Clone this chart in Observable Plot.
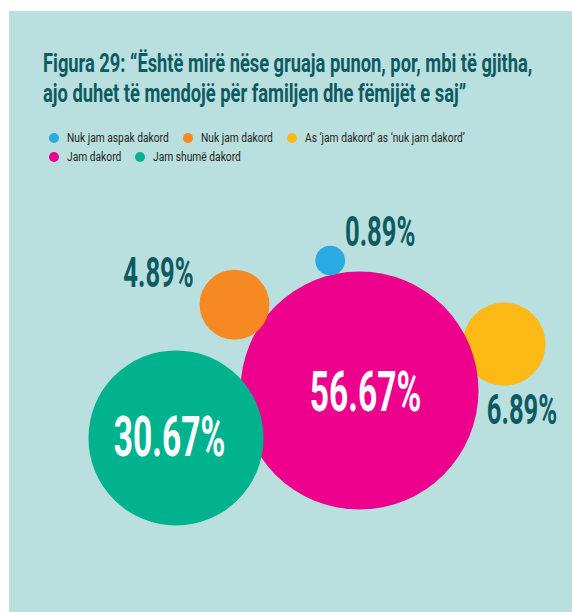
<!DOCTYPE html>
<html><head><meta charset="utf-8">
<script src="https://cdn.jsdelivr.net/npm/d3@7"></script>
<script src="https://cdn.jsdelivr.net/npm/@observablehq/plot@0.6"></script>
<style>
html,body{margin:0;padding:0;background:#fff;width:572px;height:612px;overflow:hidden;}
#panel{position:absolute;left:9px;top:11px;width:563px;height:601px;background:#badfdf;}
#title{position:absolute;left:34px;top:38px;font-family:Roboto,sans-serif;font-weight:bold;font-size:25px;line-height:30px;color:#0d5b62;white-space:nowrap;}
#title div{transform-origin:0 0;transform:scaleX(0.732);}
#legend{position:absolute;left:40px;top:117px;width:460px;display:flex;flex-wrap:wrap;font-family:Roboto,sans-serif;font-size:12.5px;line-height:19px;color:#231f20;}
#legend .item{display:inline-flex;align-items:center;margin-right:14px;white-space:nowrap;}
#legend .sw{width:10px;height:10px;border-radius:50%;margin-right:8px;display:inline-block;flex:none;}
#legend .lab{display:inline-block;overflow:visible;}
#legend .lab span{display:inline-block;transform-origin:0 50%;}
#chart{position:absolute;left:0;top:170px;}
</style></head>
<body>
<div id="panel">
  <div id="title"></div>
  <div id="legend"></div>
</div>
<div id="chart"></div>
<script>
// ---- data ----
const titleLines = [
  "Figura 29: \u201C\u00CBsht\u00EB mir\u00EB n\u00EBse gruaja punon, por, mbi t\u00EB gjitha,",
  "ajo duhet t\u00EB mendoj\u00EB p\u00EBr familjen dhe f\u00EBmij\u00EBt e saj\u201D"
];
const categories = [
  "Nuk jam aspak dakord",
  "Nuk jam dakord",
  "As \u2018jam dakord\u2019 as \u2018nuk jam dakord\u2019",
  "Jam dakord",
  "Jam shum\u00EB dakord"
];
const values = [0.89, 4.89, 6.89, 56.67, 30.67];
const labels = ["0.89%", "4.89%", "6.89%", "56.67%", "30.67%"];
const colors = ["#29abe2", "#f68922", "#fdb916", "#ec008c", "#00b38e"];

// ---- layout (not data): placement around the largest bubble ----
const angleDeg = [-102.7, -145.5, -17.8, 0, 165.5]; // direction from main bubble
const gapPx    = [-0.7, -2.3, -8.7, 0, -17];          // distance between rims
const layer    = [4, 3, 0, 1, 2];                     // drawing order
const inside   = [false, false, false, true, true];
const labelOff = [[50, -27.5], [-76, -31.5], [18, 66.5], [6, 2.5], [-6.5, 0.5]];
const legendSqueeze = 0.82, labelSqueeze = 0.61;

// ---- title & legend ----
const t = document.getElementById("title");
titleLines.forEach(s => { const d = document.createElement("div"); d.textContent = s; t.appendChild(d); });
const lg = document.getElementById("legend");
categories.forEach((c, i) => {
  const it = document.createElement("span"); it.className = "item";
  const sw = document.createElement("span"); sw.className = "sw"; sw.style.background = colors[i];
  const lab = document.createElement("span"); lab.className = "lab";
  const inner = document.createElement("span"); inner.textContent = c;
  lab.appendChild(inner);
  it.appendChild(sw); it.appendChild(lab); lg.appendChild(it);
});
lg.querySelectorAll(".lab").forEach(lab => {
  const inner = lab.firstChild;
  const w = inner.offsetWidth;
  inner.style.transform = `scaleX(${legendSqueeze})`;
  lab.style.width = (w * legendSqueeze) + "px";
});
// break after the third item, as in the reference
const brk = document.createElement("div"); brk.style.flexBasis = "100%"; brk.style.height = "0";
lg.insertBefore(brk, lg.children[3]);

// ---- chart ----
const maxV = d3.max(values);
const rRange = 119;
const rs = d3.scaleSqrt().domain([0, maxV]).range([0, rRange]);
const main = values.indexOf(maxV);
const rows = categories.map((c, i) => {
  const a = angleDeg[i] * Math.PI / 180;
  const d = i === main ? 0 : rs(values[main]) + rs(values[i]) + gapPx[i];
  const x = d * Math.cos(a), y = d * Math.sin(a);
  return {category: c, value: values[i], label: labels[i], x, y,
          lx: x + labelOff[i][0], ly: y + labelOff[i][1], inside: inside[i], layer: layer[i]};
}).sort((a, b) => a.layer - b.layer);
const inRows = rows.filter(d => d.inside), outRows = rows.filter(d => !d.inside);

const W = 572, H = 442;
const plot = Plot.plot({
  width: W, height: H,
  margin: 0,
  style: {background: "transparent", overflow: "visible"},
  x: {domain: [-359, W - 359], range: [0, W], axis: null},
  y: {domain: [-220, H - 220], range: [0, H], axis: null},
  r: {type: "sqrt", domain: [0, maxV], range: [0, rRange]},
  color: {domain: categories, range: colors},
  marks: [
    Plot.dot(rows, {x: "x", y: "y", r: "value", fill: "category", sort: null}),
    Plot.text(inRows, {x: "lx", y: "ly", text: "label", fill: "white",
      fontSize: 55, fontWeight: "bold", fontFamily: "Roboto", className: "lab-in"}),
    Plot.text(outRows, {x: "lx", y: "ly", text: "label", fill: "#0d5b62",
      fontSize: 42, fontWeight: "bold", fontFamily: "Roboto", className: "lab-out"})
  ]
});
document.getElementById("chart").appendChild(plot);
// condense the percentage labels: horizontal squeeze about each label's anchor
// (the text's own em-based vertical offset attribute is kept as is)
const sx = plot.scale("x"), sy = plot.scale("y");
[["lab-in", inRows], ["lab-out", outRows]].forEach(([cls, data]) => {
  d3.select(plot).selectAll(`g.${cls} text`).each(function(_, j) {
    const d = data[j];
    this.setAttribute("transform",
      `translate(${sx.apply(d.lx)},${sy.apply(d.ly)}) scale(${labelSqueeze},1)`);
  });
});
</script>
</body></html>
